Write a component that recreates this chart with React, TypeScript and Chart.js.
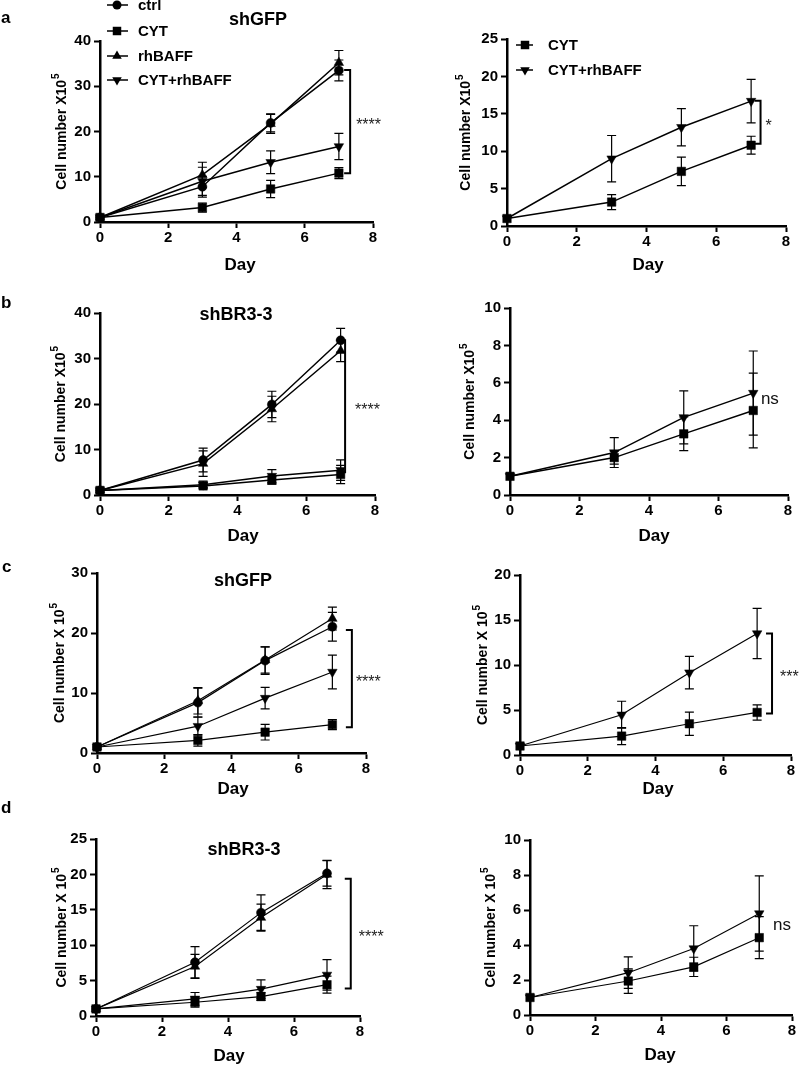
import React, { useEffect, useRef } from 'react';
import { Chart, registerables } from 'chart.js';

Chart.register(...registerables);

const FONT = '"Liberation Sans", Arial, Helvetica, sans-serif';

// ---------- data ----------
const days = [0, 3, 5, 7];
const seriesNames = ['ctrl', 'CYT', 'rhBAFF', 'CYT+rhBAFF'];

// panel a (shGFP)
const aCtrl = [1, 7.8, 21.9, 33.5];
const aCtrlErr = [0, 2.3, 2.0, 2.3];
const aCyt = [1, 3.2, 7.3, 10.8];
const aCytErr = [0, 1.0, 1.9, 1.2];
const aRh = [1, 10.4, 21.7, 35.2];
const aRhErr = [0, 2.8, 2.1, 2.7];
const aCytRh = [1, 9.0, 13.2, 16.7];
const aCytRhErr = [0, 3.1, 2.5, 2.9];

// panel b (shBR3-3)
const bCtrl = [1, 7.7, 19.9, 34.0];
const bCtrlErr = [0, 2.6, 2.9, 2.6];
const bCyt = [1, 2.0, 3.27, 4.52];
const bCytErr = [0, 0.35, 0.9, 2.0];
const bRh = [1, 6.9, 18.9, 31.7];
const bRhErr = [0, 2.8, 2.8, 2.4];
const bCytRh = [1, 2.27, 4.15, 5.45];
const bCytRhErr = [0, 0.8, 1.42, 2.25];

// panel c (shGFP)
const cCtrl = [1, 8.4, 15.4, 21.05];
const cCtrlErr = [0, 2.4, 2.3, 2.4];
const cCyt = [1, 2.1, 3.47, 4.73];
const cCytErr = [0, 0.95, 1.3, 0.85];
const cRh = [1, 8.7, 15.5, 22.4];
const cRhErr = [0, 2.2, 2.2, 1.9];
const cCytRh = [1, 4.47, 9.15, 13.5];
const cCytRhErr = [0, 1.5, 1.8, 2.8];

// panel d (shBR3-3)
const dCtrl = [1, 7.6, 14.6, 20.15];
const dCtrlErr = [0, 2.2, 2.5, 1.8];
const dCyt = [1, 1.94, 2.75, 4.42];
const dCytErr = [0, 0.7, 0.55, 1.2];
const dRh = [1, 7.0, 13.9, 20.0];
const dRhErr = [0, 1.7, 1.9, 2.0];
const dCytRh = [1, 2.42, 3.8, 5.8];
const dCytRhErr = [0, 0.9, 1.3, 2.15];

// ---------- types ----------
type Marker = 'circle' | 'square' | 'up' | 'down';
type Series = { name: string; marker: Marker; values: number[]; errors: number[] };
type Panel = {
  box: [number, number, number, number];
  plot: [number, number, number, number];
  yMax: number;
  yStep: number;
  lineWidth: number;
  series: Series[];
  title?: { text: string; x: number; y: number };
  letter?: { text: string; x: number; y: number };
  yTitle: { text: string; x: number };
  xTitle: { x: number; y: number };
  legend?: { x1: number; x2: number; mx: number; tx: number; ys: number[] };
  bracket?: { x: number; y1: number; y2: number; label: string; dx: number };
  note?: { text: string; x: number; y: number };
};

const markerRadius: Record<Marker, number> = { circle: 4.5, square: 6, up: 5.5, down: 5.5 };

const four = (v: number[][]): Series[] => [
  { name: seriesNames[0], marker: 'circle', values: v[0], errors: v[1] },
  { name: seriesNames[1], marker: 'square', values: v[2], errors: v[3] },
  { name: seriesNames[2], marker: 'up', values: v[4], errors: v[5] },
  { name: seriesNames[3], marker: 'down', values: v[6], errors: v[7] },
];
const two = (v: number[][]): Series[] => [
  { name: seriesNames[1], marker: 'square', values: v[0], errors: v[1] },
  { name: seriesNames[3], marker: 'down', values: v[2], errors: v[3] },
];

const panels: Panel[] = [
  {
    box: [0, 0, 400, 280], plot: [100, 373, 41, 222], yMax: 40, yStep: 10, lineWidth: 1.5,
    series: four([aCtrl, aCtrlErr, aCyt, aCytErr, aRh, aRhErr, aCytRh, aCytRhErr]),
    title: { text: 'shGFP', x: 258, y: 20 }, letter: { text: 'a', x: 1, y: 18 },
    yTitle: { text: 'Cell number X10', x: 62 }, xTitle: { x: 240, y: 265 },
    legend: { x1: 107, x2: 128, mx: 117, tx: 138, ys: [5, 31, 56, 80] },
    bracket: { x: 7.33, y1: 33.6, y2: 10.8, label: '****', dx: 6 },
  },
  {
    box: [400, 0, 400, 280], plot: [507, 786, 39, 226], yMax: 25, yStep: 5, lineWidth: 1.5,
    series: two([aCyt, aCytErr, aCytRh, aCytRhErr]),
    yTitle: { text: 'Cell number X10', x: 466 }, xTitle: { x: 648, y: 265 },
    legend: { x1: 516, x2: 533, mx: 525, tx: 548, ys: [45, 70] },
    bracket: { x: 7.27, y1: 16.75, y2: 11.0, label: '*', dx: 5 },
  },
  {
    box: [0, 280, 400, 265], plot: [100, 375, 313, 495], yMax: 40, yStep: 10, lineWidth: 1.5,
    series: four([bCtrl, bCtrlErr, bCyt, bCytErr, bRh, bRhErr, bCytRh, bCytRhErr]),
    title: { text: 'shBR3-3', x: 236, y: 315 }, letter: { text: 'b', x: 1, y: 303 },
    yTitle: { text: 'Cell number X10', x: 61 }, xTitle: { x: 243, y: 536 },
    bracket: { x: 7.13, y1: 34.0, y2: 5.0, label: '****', dx: 10 },
  },
  {
    box: [400, 280, 400, 265], plot: [510, 788, 308, 495], yMax: 10, yStep: 2, lineWidth: 1.5,
    series: two([bCyt, bCytErr, bCytRh, bCytRhErr]),
    yTitle: { text: 'Cell number X10', x: 470 }, xTitle: { x: 654, y: 536 },
    note: { text: 'ns', x: 7.22, y: 5.13 },
  },
  {
    box: [0, 545, 400, 255], plot: [97, 366, 573, 753], yMax: 30, yStep: 10, lineWidth: 1.2,
    series: four([cCtrl, cCtrlErr, cCyt, cCytErr, cRh, cRhErr, cCytRh, cCytRhErr]),
    title: { text: 'shGFP', x: 243, y: 581 }, letter: { text: 'c', x: 2, y: 567 },
    yTitle: { text: 'Cell number X 10', x: 60 }, xTitle: { x: 233, y: 789 },
    bracket: { x: 7.58, y1: 20.5, y2: 4.3, label: '****', dx: 4 },
  },
  {
    box: [400, 545, 400, 255], plot: [520, 791, 575, 755], yMax: 20, yStep: 5, lineWidth: 1.2,
    series: two([cCyt, cCytErr, cCytRh, cCytRhErr]),
    yTitle: { text: 'Cell number X 10', x: 483 }, xTitle: { x: 658, y: 789 },
    bracket: { x: 7.44, y1: 13.5, y2: 4.6, label: '***', dx: 8 },
  },
  {
    box: [0, 800, 400, 265], plot: [96, 360, 839, 1016], yMax: 25, yStep: 5, lineWidth: 1.2,
    series: four([dCtrl, dCtrlErr, dCyt, dCytErr, dRh, dRhErr, dCytRh, dCytRhErr]),
    title: { text: 'shBR3-3', x: 244, y: 850 }, letter: { text: 'd', x: 1, y: 808 },
    yTitle: { text: 'Cell number X 10', x: 62 }, xTitle: { x: 229, y: 1056 },
    bracket: { x: 7.72, y1: 19.4, y2: 3.9, label: '****', dx: 8 },
  },
  {
    box: [400, 800, 400, 265], plot: [530, 792, 840, 1015], yMax: 10, yStep: 2, lineWidth: 1.1,
    series: two([dCyt, dCytErr, dCytRh, dCytRhErr]),
    yTitle: { text: 'Cell number X 10', x: 491 }, xTitle: { x: 660, y: 1055 },
    note: { text: 'ns', x: 7.42, y: 5.14 },
  },
];

// ---------- drawing helpers ----------
function drawMarker(ctx: CanvasRenderingContext2D, m: Marker, x: number, y: number) {
  const r = markerRadius[m];
  ctx.beginPath();
  if (m === 'circle') {
    ctx.arc(x, y, r, 0, Math.PI * 2);
  } else if (m === 'square') {
    const s = r * Math.SQRT1_2;
    ctx.rect(x - s, y - s, 2 * s, 2 * s);
  } else if (m === 'up') {
    ctx.moveTo(x, y - r);
    ctx.lineTo(x + 0.866 * r, y + 0.5 * r);
    ctx.lineTo(x - 0.866 * r, y + 0.5 * r);
    ctx.closePath();
  } else {
    ctx.moveTo(x, y + r);
    ctx.lineTo(x + 0.866 * r, y - 0.5 * r);
    ctx.lineTo(x - 0.866 * r, y - 0.5 * r);
    ctx.closePath();
  }
  ctx.fillStyle = '#000';
  ctx.fill();
}

function makePlugin(p: Panel) {
  const [L, T] = p.box;
  const cx = (x: number) => x - L;
  const cy = (y: number) => y - T;
  return {
    id: 'extras',
    beforeDatasetsDraw(chart: any) {
      const ctx: CanvasRenderingContext2D = chart.ctx;
      const xs = chart.scales.x;
      const ys = chart.scales.y;
      ctx.save();
      ctx.strokeStyle = '#000';
      ctx.lineWidth = 1.2;
      p.series.forEach((s) => {
        s.values.forEach((v, i) => {
          const e = s.errors[i];
          if (!e) return;
          const px = xs.getPixelForValue(days[i]);
          const top = ys.getPixelForValue(v + e);
          const bot = ys.getPixelForValue(Math.max(0, v - e));
          ctx.beginPath();
          ctx.moveTo(px, top);
          ctx.lineTo(px, bot);
          ctx.moveTo(px - 4.5, top);
          ctx.lineTo(px + 4.5, top);
          ctx.moveTo(px - 4.5, bot);
          ctx.lineTo(px + 4.5, bot);
          ctx.stroke();
        });
      });
      ctx.restore();
    },
    afterDraw(chart: any) {
      const ctx: CanvasRenderingContext2D = chart.ctx;
      const xs = chart.scales.x;
      const ys = chart.scales.y;
      const [, , yTopPx, y0Px] = p.plot;
      ctx.save();
      ctx.fillStyle = '#000';
      ctx.strokeStyle = '#000';

      // panel letter
      if (p.letter) {
        ctx.font = `bold 17px ${FONT}`;
        ctx.textAlign = 'left';
        ctx.textBaseline = 'middle';
        ctx.fillText(p.letter.text, cx(p.letter.x), cy(p.letter.y));
      }
      // title
      if (p.title) {
        ctx.font = `bold 18px ${FONT}`;
        ctx.textAlign = 'center';
        ctx.textBaseline = 'middle';
        ctx.fillText(p.title.text, cx(p.title.x), cy(p.title.y));
      }
      // x title
      ctx.font = `bold 17px ${FONT}`;
      ctx.textAlign = 'center';
      ctx.textBaseline = 'middle';
      ctx.fillText('Day', cx(p.xTitle.x), cy(p.xTitle.y));

      // y title with superscript
      {
        const mainFont = `bold 14px ${FONT}`;
        const supFont = `bold 10px ${FONT}`;
        ctx.font = mainFont;
        const w1 = ctx.measureText(p.yTitle.text).width;
        ctx.font = supFont;
        const w2 = ctx.measureText('5').width;
        const total = w1 + w2 + 1;
        ctx.save();
        ctx.translate(cx(p.yTitle.x), cy((yTopPx + y0Px) / 2));
        ctx.rotate(-Math.PI / 2);
        ctx.textAlign = 'left';
        ctx.textBaseline = 'middle';
        ctx.font = mainFont;
        ctx.fillText(p.yTitle.text, -total / 2, 0);
        ctx.font = supFont;
        ctx.fillText('5', -total / 2 + w1 + 1, -6);
        ctx.restore();
      }

      // legend
      if (p.legend) {
        const lg = p.legend;
        ctx.font = `bold 15px ${FONT}`;
        ctx.textAlign = 'left';
        ctx.textBaseline = 'middle';
        p.series.forEach((s, i) => {
          const y = cy(lg.ys[i]);
          ctx.lineWidth = 1.5;
          ctx.beginPath();
          ctx.moveTo(cx(lg.x1), y);
          ctx.lineTo(cx(lg.x2), y);
          ctx.stroke();
          drawMarker(ctx, s.marker, cx(lg.mx), y);
          ctx.fillStyle = '#000';
          ctx.fillText(s.name, cx(lg.tx), y + 0.5);
        });
      }

      // bracket + stars
      if (p.bracket) {
        const b = p.bracket;
        const bx = xs.getPixelForValue(b.x);
        const by1 = ys.getPixelForValue(b.y1);
        const by2 = ys.getPixelForValue(b.y2);
        ctx.lineWidth = 2;
        ctx.lineCap = 'square';
        ctx.beginPath();
        ctx.moveTo(bx - 5, by1);
        ctx.lineTo(bx, by1);
        ctx.lineTo(bx, by2);
        ctx.lineTo(bx - 5, by2);
        ctx.stroke();
        ctx.font = `16px ${FONT}`;
        ctx.fillStyle = '#222';
        ctx.textAlign = 'left';
        ctx.textBaseline = 'middle';
        ctx.fillText(b.label, bx + b.dx, (by1 + by2) / 2 + 4);
      }
      // note
      if (p.note) {
        ctx.font = `17px ${FONT}`;
        ctx.fillStyle = '#111';
        ctx.textAlign = 'left';
        ctx.textBaseline = 'middle';
        ctx.fillText(p.note.text, xs.getPixelForValue(p.note.x), ys.getPixelForValue(p.note.y));
      }
      ctx.restore();
    },
  };
}

function PanelChart({ p }: { p: Panel }) {
  const ref = useRef<HTMLCanvasElement>(null);
  useEffect(() => {
    const [L, T, W, H] = p.box;
    const [x0, x8, yTop, y0] = p.plot;
    const A = 50;
    const B = 30;
    const pad = {
      left: x0 - L - A,
      top: yTop - T,
      right: W - (x8 - L),
      bottom: H - (y0 - T) - B,
    };
    const tickFont = { family: FONT, size: 15, weight: 'bold' as const };
    const chart = new Chart(ref.current as HTMLCanvasElement, {
      type: 'line',
      data: {
        datasets: p.series.map((s) => ({
          label: s.name,
          data: days.map((d, i) => ({ x: d, y: s.values[i] })),
          borderColor: '#000',
          backgroundColor: '#000',
          borderWidth: p.lineWidth,
          pointStyle: s.marker === 'circle' ? 'circle' : s.marker === 'square' ? 'rect' : 'triangle',
          pointRotation: s.marker === 'down' ? 180 : 0,
          pointRadius: markerRadius[s.marker],
          pointBackgroundColor: '#000',
          pointBorderColor: '#000',
          pointBorderWidth: 0.5,
          tension: 0,
          fill: false,
          clip: false as any,
        })),
      },
      options: {
        responsive: false,
        animation: false,
        devicePixelRatio: 1,
        events: [],
        layout: { padding: pad },
        plugins: { legend: { display: false }, tooltip: { enabled: false }, title: { display: false } },
        scales: {
          x: {
            type: 'linear',
            min: 0,
            max: 8,
            afterFit: (s: any) => { s.height = B; },
            ticks: { stepSize: 2, font: tickFont, color: '#000', padding: 1, maxRotation: 0 },
            grid: { display: true, drawOnChartArea: false, drawTicks: true, tickLength: 6, tickWidth: 2, tickColor: '#000', color: '#000' },
            border: { display: true, color: '#000', width: 2.5 },
          },
          y: {
            type: 'linear',
            min: 0,
            max: p.yMax,
            afterFit: (s: any) => { s.width = A; },
            ticks: { stepSize: p.yStep, font: tickFont, color: '#000', padding: 3 },
            grid: { display: true, drawOnChartArea: false, drawTicks: true, tickLength: 6, tickWidth: 2, tickColor: '#000', color: '#000' },
            border: { display: true, color: '#000', width: 2.5 },
          },
        },
      } as any,
      plugins: [makePlugin(p) as any],
    });
    return () => chart.destroy();
  }, [p]);
  const [L, T, W, H] = p.box;
  return (
    <canvas
      ref={ref}
      width={W}
      height={H}
      style={{ position: 'absolute', left: L, top: T, width: W, height: H, display: 'block' }}
    />
  );
}

export default function App() {
  return (
    <div style={{ position: 'absolute', left: 0, top: 0, width: 800, height: 1065, background: '#fff', overflow: 'hidden' }}>
      {panels.map((p, i) => (
        <PanelChart key={i} p={p} />
      ))}
    </div>
  );
}
